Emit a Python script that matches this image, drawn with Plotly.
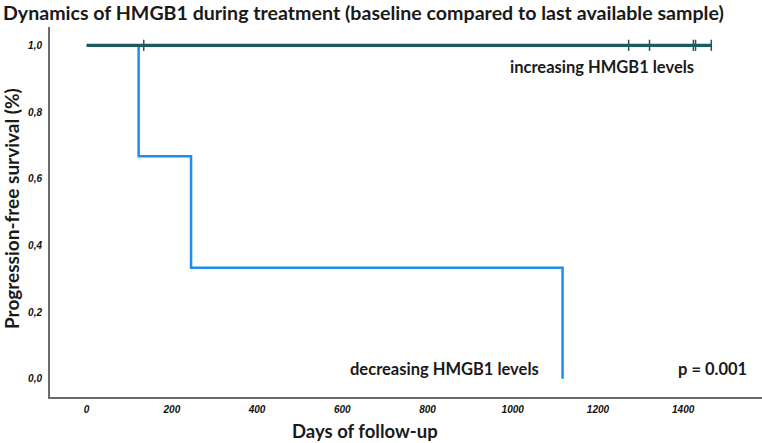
import plotly.graph_objects as go

# Data
inc_times = [0, 1466]
inc_surv = [1.0, 1.0]
inc_censor_days = [134, 1272, 1321, 1424, 1429, 1466]

dec_times = [0, 122, 245, 1117]
dec_surv = [1.0, 0.667, 0.333, 0.0]

x_ticks = [0, 200, 400, 600, 800, 1000, 1200, 1400]
y_ticks = [0.0, 0.2, 0.4, 0.6, 0.8, 1.0]
y_tick_labels = ["0,0", "0,2", "0,4", "0,6", "0,8", "1,0"]

blue = "#1E8CF0"
teal = "#1D5A5C"

fig = go.Figure()
fig.add_trace(go.Scatter(x=dec_times, y=dec_surv, mode="lines", line=dict(color=blue, width=2.5, shape="hv"),
                         showlegend=False, hoverinfo="skip"))
fig.add_trace(go.Scatter(x=inc_times, y=inc_surv, mode="lines", line=dict(color=teal, width=3.2, shape="hv"),
                         showlegend=False, hoverinfo="skip"))
fig.add_trace(go.Scatter(x=inc_censor_days, y=[1.0] * len(inc_censor_days), mode="markers",
                         marker=dict(symbol="line-ns-open", size=8, color=teal, line=dict(color=teal, width=1.5)),
                         showlegend=False, hoverinfo="skip"))

tick_font = dict(family="Arial Black, Liberation Sans, Arial", size=10, color="#111")

W, H = 762, 443
L, R, T, B = 50, 0, 27, 46
PW, PH = W - L - R, H - T - B

def px(x):
    return (x - L) / PW

def py(y):
    return (H - B - y) / PH

fig.update_layout(
    width=W, height=H,
    margin=dict(l=L, r=R, t=T, b=B, autoexpand=False),
    plot_bgcolor="white", paper_bgcolor="white",
    font=dict(family="Lato, Open Sans, sans-serif"),
    xaxis=dict(range=[-86, 1585], tickvals=x_ticks, ticktext=[f"<b><i>{v}</i></b>" for v in x_ticks],
               tickfont=tick_font, showgrid=False, zeroline=False, showline=True, linecolor="#6b6b6b",
               linewidth=2, ticks="", ticklabelstandoff=2, automargin=False),
    yaxis=dict(range=[-0.055, 1.055], tickvals=y_ticks, ticktext=[f"<b><i>{t}</i></b>" for t in y_tick_labels],
               tickfont=tick_font, showgrid=False, zeroline=False, showline=True, linecolor="#6b6b6b",
               linewidth=2, ticks="", ticklabelstandoff=4, automargin=False),
)

ann_font = dict(family="Lato, Open Sans, sans-serif", size=16.5, color="#1a1a1a")
fig.add_annotation(text="<b>Dynamics of HMGB1 during treatment (baseline compared to last available sample)</b>",
                   xref="paper", yref="paper", x=px(1), y=py(13), xanchor="left", yanchor="middle",
                   showarrow=False, font=dict(family="Lato, Open Sans, sans-serif", size=19.6, color="#1a1a1a"))
fig.add_annotation(text="<b>increasing HMGB1 levels</b>", x=1210, y=0.935, xanchor="center", yanchor="middle",
                   showarrow=False, font=ann_font)
fig.add_annotation(text="<b>decreasing HMGB1 levels</b>", x=841, y=0.029, xanchor="center", yanchor="middle",
                   showarrow=False, font=ann_font)
fig.add_annotation(text="<b>p = 0.001</b>", x=1468, y=0.029, xanchor="center", yanchor="middle",
                   showarrow=False, font=ann_font)
fig.add_annotation(text="<b>Days of follow-up</b>", xref="paper", yref="paper", x=px(365), y=py(431),
                   xanchor="center", yanchor="middle", showarrow=False,
                   font=dict(family="Lato, Open Sans, sans-serif", size=18.5, color="#1a1a1a"))
fig.add_annotation(text="<b>Progression-free survival (%)</b>", xref="paper", yref="paper", x=px(11), y=py(209),
                   xanchor="center", yanchor="middle", showarrow=False, textangle=-90,
                   font=dict(family="Lato, Open Sans, sans-serif", size=19, color="#1a1a1a"))

fig.write_html("out.html", config={"displayModeBar": False},
               post_script="document.body.style.margin='0px';")
